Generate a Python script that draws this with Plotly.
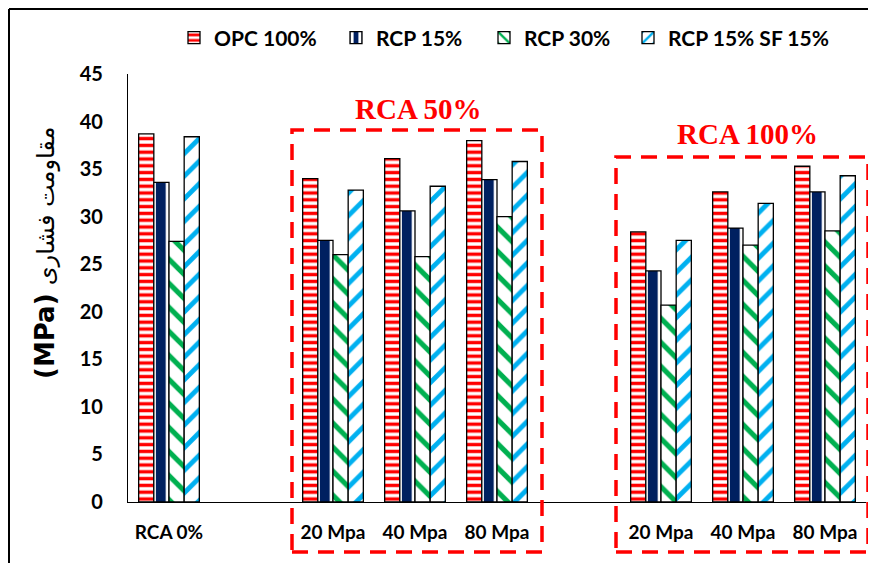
import plotly.graph_objects as go

# ---- data ----
categories = ["RCA 0%", "gap1", "RCA50-20", "RCA50-40", "RCA50-80", "gap2", "RCA100-20", "RCA100-40", "RCA100-80"]
tick_labels = ["RCA 0%", "", "20 Mpa", "40 Mpa", "80 Mpa", "", "20 Mpa", "40 Mpa", "80 Mpa"]
series_names = ["OPC 100%", "RCP 15%", "RCP 30%", "RCP 15% SF 15%"]
opc100 = [38.7, None, 34.0, 36.1, 38.0, None, 28.4, 32.6, 35.3]
rcp15 = [33.6, None, 27.5, 30.6, 33.9, None, 24.3, 28.8, 32.6]
rcp30 = [27.4, None, 26.0, 25.8, 30.0, None, 20.7, 27.0, 28.5]
rcp15_sf15 = [38.4, None, 32.8, 33.2, 35.8, None, 27.5, 31.4, 34.3]
y_ticks = [0, 5, 10, 15, 20, 25, 30, 35, 40, 45]

# page body adds an 8px offset; work in window pixel coordinates
OFF = 8
WIN_W, WIN_H = 876, 563
W, H = WIN_W - OFF, WIN_H - OFF
PL, PR, PT, PB = 128, 866, 74, 502   # plot area edges in window pixels
ML, MR, MT, MB = PL - OFF, (WIN_W - PR), PT - OFF, (WIN_H - PB)
PW, PH = PR - PL, PB - PT


def xp(px):
    return (px - PL) / PW


def yp(py):
    return (PB - py) / PH


styles = [
    dict(shape="-", fgcolor="#ff0000", bgcolor="white", size=6.8, solidity=0.5),
    dict(shape="|", fgcolor="white", bgcolor="#002060", size=16.4, solidity=0.4),
    dict(shape="\\", fgcolor="#00b050", bgcolor="white", size=17, solidity=0.3),
    dict(shape="/", fgcolor="#00b0f0", bgcolor="white", size=16, solidity=0.3),
]
legend_ids = ["legend", "legend2", "legend3", "legend4"]
legend_px = [174, 336, 484, 628]

font_main = "Lato"

fig = go.Figure()
for name, vals, st, lid in zip(series_names, [opc100, rcp15, rcp30, rcp15_sf15], styles, legend_ids):
    fig.add_trace(go.Bar(
        x=categories, y=vals, name=name, legend=lid,
        marker=dict(color="white", pattern=dict(fillmode="replace", **st),
                    line=dict(color="black", width=1.3)),
    ))

legend_common = dict(orientation="h", xanchor="left", y=yp(38), yanchor="middle",
                     font=dict(size=21, family=font_main, weight="bold", color="black"),
                     bgcolor="rgba(0,0,0,0)")
legend_layout = {lid: dict(x=xp(px), **legend_common) for lid, px in zip(legend_ids, legend_px)}

fig.update_layout(
    width=W, height=H,
    margin=dict(l=ML, r=MR, t=MT, b=MB),
    paper_bgcolor="white", plot_bgcolor="white",
    barmode="group", bargap=0.26, bargroupgap=0,
    font=dict(family=font_main, color="black"),
    showlegend=True,
    xaxis=dict(type="category", categoryorder="array", categoryarray=categories,
               tickmode="array", tickvals=categories, ticktext=tick_labels,
               showline=True, linecolor="black", linewidth=1.3, ticks="",
               tickfont=dict(size=19, family=font_main, weight="bold"),
               ticklabelstandoff=13, showgrid=False, zeroline=False),
    yaxis=dict(range=[0, 45], tickmode="array", tickvals=y_ticks,
               showline=True, linecolor="black", linewidth=1.3, ticks="",
               tickfont=dict(size=20, family=font_main, weight="bold"),
               ticklabelstandoff=20, showgrid=False, zeroline=False),
    **legend_layout,
)

dash_line = dict(color="#ff0000", width=3.5, dash="16px,10px")
fig.add_shape(type="rect", xref="paper", yref="paper",
              x0=xp(292), x1=xp(542), y0=yp(552), y1=yp(130), line=dash_line, fillcolor="rgba(0,0,0,0)")
fig.add_shape(type="rect", xref="paper", yref="paper",
              x0=xp(616), x1=xp(868), y0=yp(552), y1=yp(157), line=dash_line, fillcolor="rgba(0,0,0,0)")

# outer frame lines
fig.add_shape(type="line", xref="paper", yref="paper", x0=xp(9), x1=xp(880), y0=yp(9), y1=yp(9),
              line=dict(color="black", width=2))
fig.add_shape(type="line", xref="paper", yref="paper", x0=xp(9), x1=xp(9), y0=yp(9), y1=yp(570),
              line=dict(color="black", width=2))

fig.add_annotation(text="<b>RCA 50%</b>", xref="paper", yref="paper", x=xp(418), y=yp(109),
                   xanchor="center", yanchor="middle",
                   showarrow=False, font=dict(family="Liberation Serif", size=29, color="#ff0000"))
fig.add_annotation(text="<b>RCA 100%</b>", xref="paper", yref="paper", x=xp(747), y=yp(134),
                   xanchor="center", yanchor="middle",
                   showarrow=False, font=dict(family="Liberation Serif", size=29, color="#ff0000"))
fig.add_annotation(text="<b>(MPa)</b> <span style='font-size:24px'>مقاومت فشاری</span>",
                   xref="paper", yref="paper", x=xp(45), y=yp(253), textangle=-90,
                   xanchor="center", yanchor="middle",
                   showarrow=False, font=dict(family="DejaVu Sans", size=26, color="black"))

fig.write_html("out.html")
